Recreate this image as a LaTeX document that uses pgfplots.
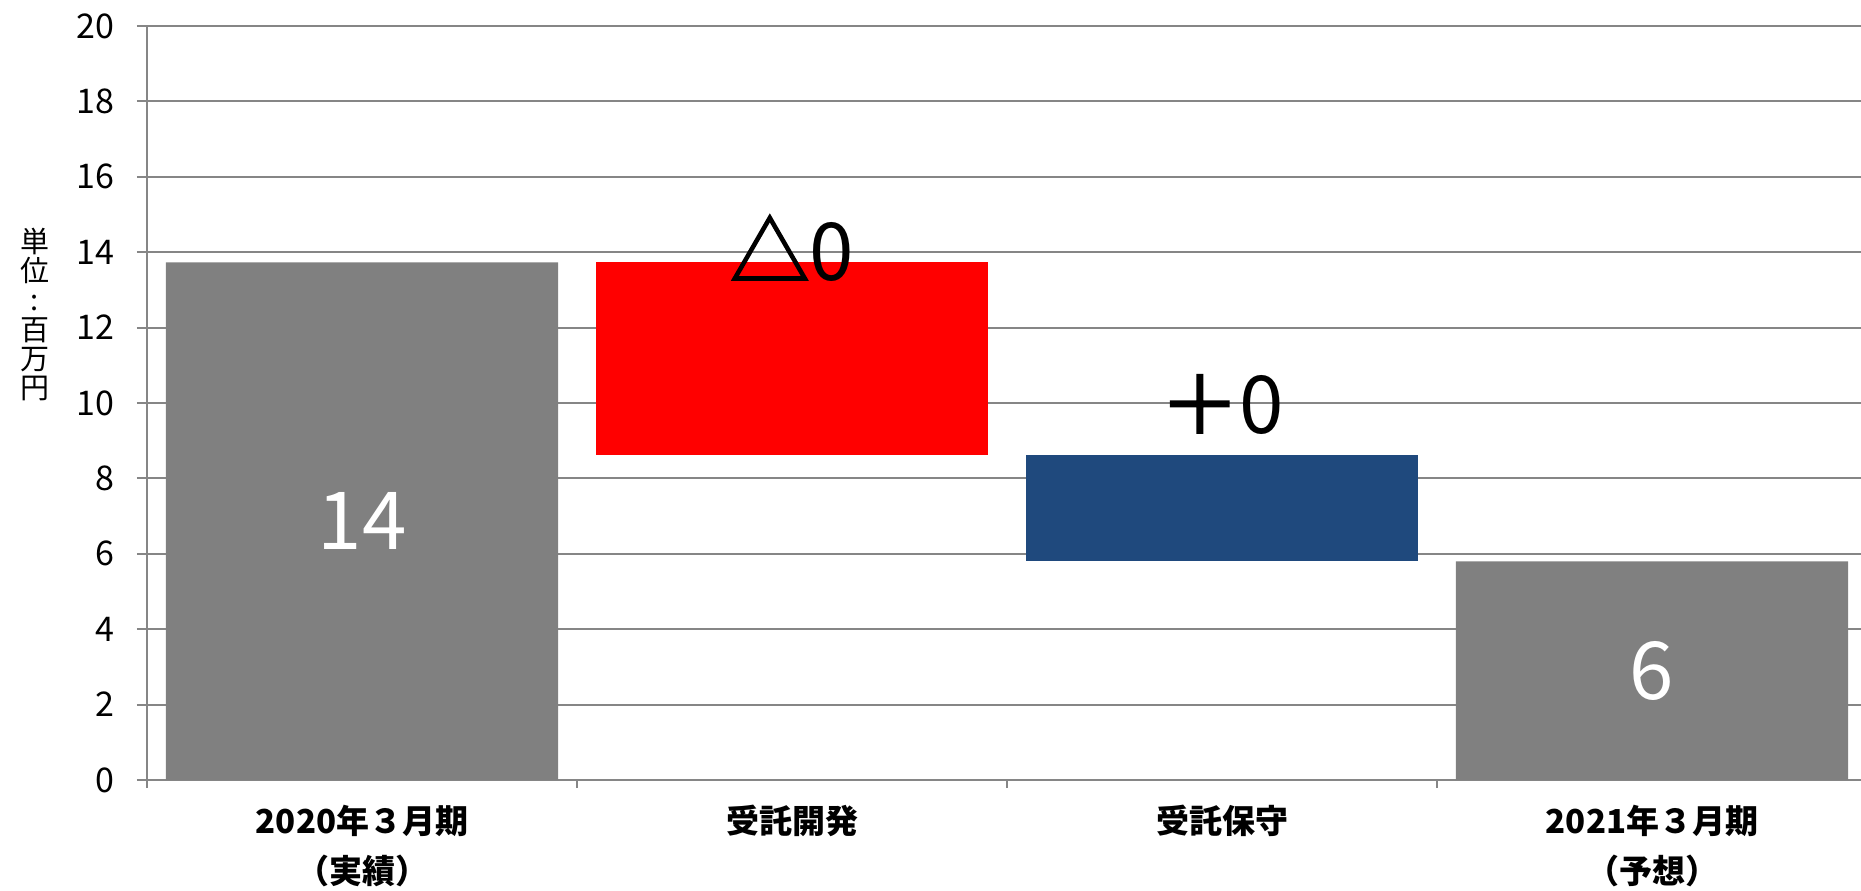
\documentclass[border=0pt]{standalone}
\usepackage{fontspec}
\setmainfont{Noto Sans CJK JP}
\newfontfamily\symfont[FakeBold=2]{Noto Sans CJK JP}
\usepackage{pgfplots}
\pgfplotsset{compat=1.18}
\definecolor{gridgray}{RGB}{134,134,134}
\definecolor{bargray}{RGB}{128,128,128}
\definecolor{barred}{RGB}{255,0,0}
\definecolor{barblue}{RGB}{31,73,125}
\begin{document}
\begin{tikzpicture}
\useasboundingbox (0,0) rectangle (930.5pt,445pt);
\begin{axis}[
  at={(73.5pt,55pt)}, anchor=south west,
  scale only axis, width=857pt, height=377pt,
  xmin=-0.5, xmax=3.486, ymin=0, ymax=20,
  ybar stacked, bar width=0.912,
  axis x line*=bottom, axis y line*=left,
  axis line style={gridgray, line width=1pt},
  ytick={0,2,...,20},
  ymajorgrids, grid style={gridgray, line width=1pt},
  xtick={0,1,2,3},
  xticklabels={2020年３月期\\（実績）, 受託開発, 受託保守, 2021年３月期\\（予想）},
  major x tick style={draw=none},
  minor xtick={-0.5,0.5,1.5,2.5},
  tick align=outside,
  tick style={gridgray, line width=1pt},
  major tick length=5pt, minor tick length=4pt,
  /pgf/number format/assume math mode=true,
  yticklabel style={font=\fontsize{17}{18}\selectfont, text=black, xshift=-8pt},
  xticklabel style={align=center, anchor=north, yshift=-4pt, font=\bfseries\fontsize{16.5}{25}\selectfont, text=black},
]
\addplot[fill=none, draw=none] coordinates {(0,0) (1,8.63) (2,5.80) (3,0)};
\addplot[fill=bargray, draw=none] coordinates {(0,13.73) (1,0) (2,0) (3,5.80)};
\addplot[fill=barred, draw=none] coordinates {(0,0) (1,5.10) (2,0) (3,0)};
\addplot[fill=barblue, draw=none] coordinates {(0,0) (1,0) (2,2.83) (3,0)};
\coordinate (L0) at (axis cs:0,6.87);
\coordinate (L3) at (axis cs:3,2.88);
\coordinate (L1) at (axis cs:1,14.1);
\coordinate (L2) at (axis cs:2,9.95);
\end{axis}
\node[text=white, font=\fontsize{40}{44}\selectfont] at (L0) {14};
\node[text=white, font=\fontsize{40}{44}\selectfont] at (L3) {6};
\node[text=black, font=\fontsize{40}{44}\selectfont] at (L1) {{\symfont △}0};
\node[text=black, font=\fontsize{40}{44}\selectfont] at (L2) {{\symfont ＋}0};
\node[align=center, font=\fontsize{14.5}{14.6}\selectfont] at (17.5pt,287.75pt) {単\\位\\:\\百\\万\\円};
\end{tikzpicture}
\end{document}
